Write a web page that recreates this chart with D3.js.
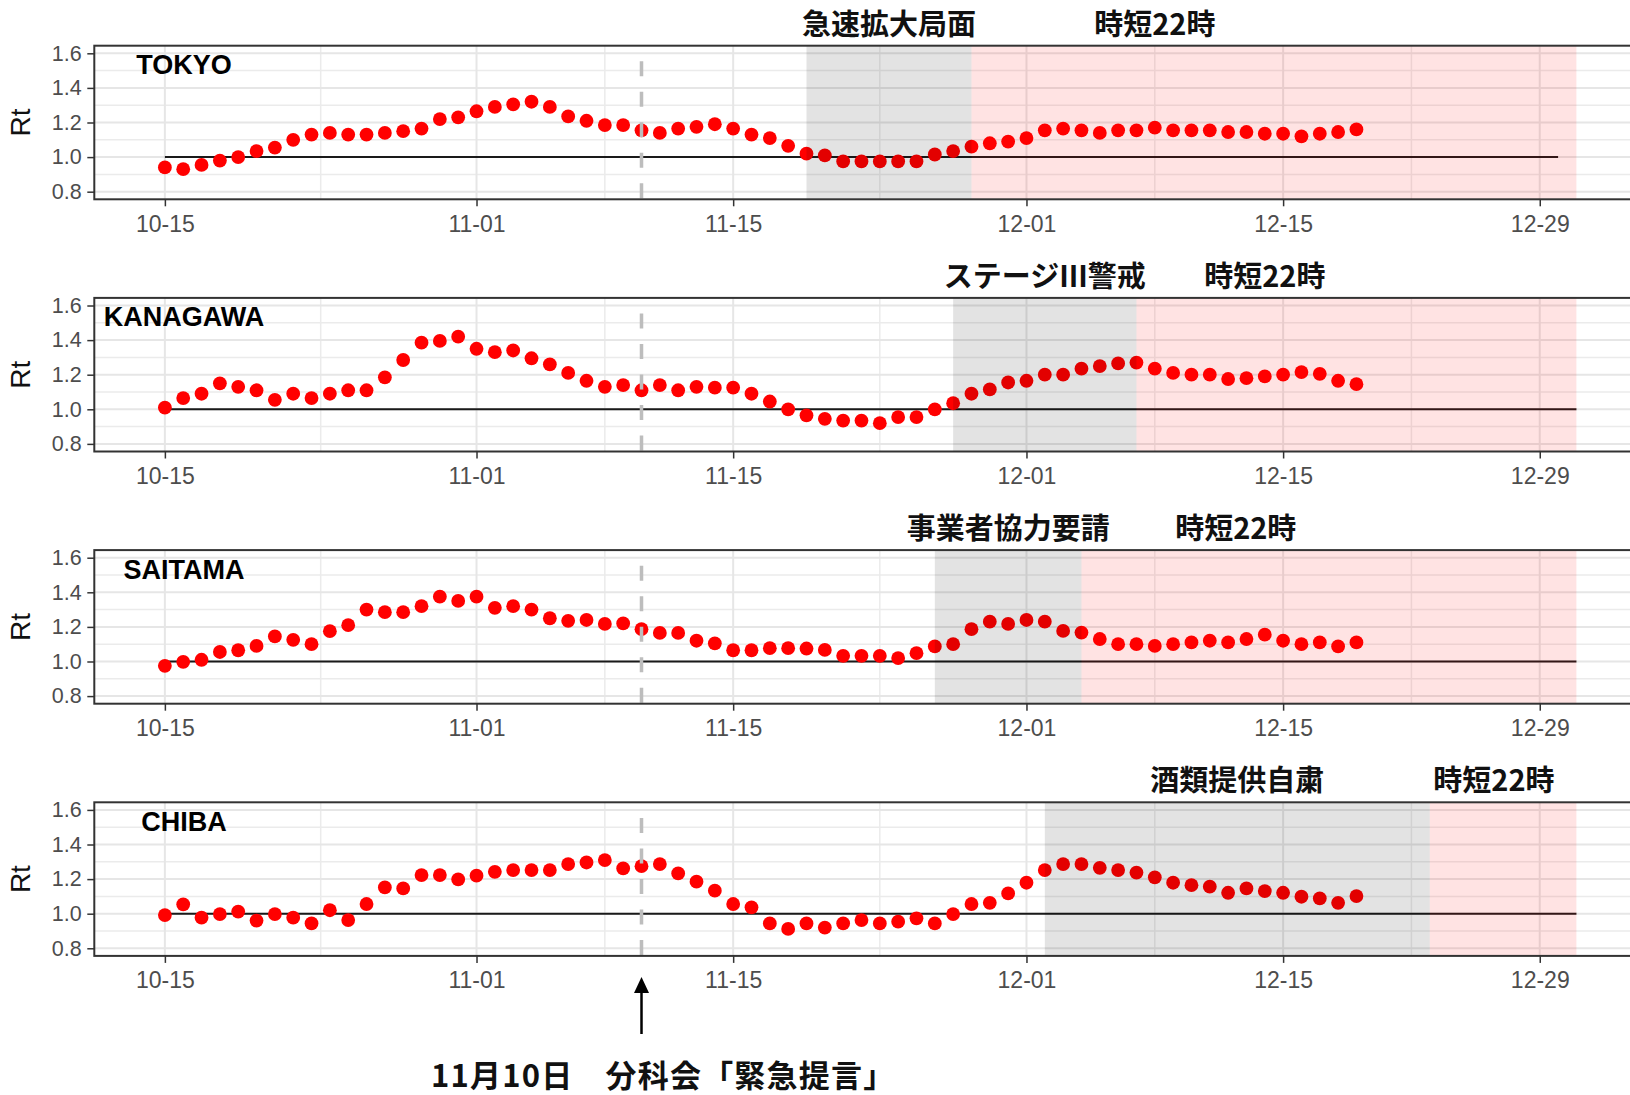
<!DOCTYPE html>
<html>
<head>
<meta charset="utf-8">
<script src="https://cdn.jsdelivr.net/npm/d3@7"></script>
<style>
    body { margin: 0; background: #fff; }
    svg { display: block; }
</style>
</head>
<body>
<div class="canvas"></div>
<script>
// ---------------------------------------------------------------- data
// daily Rt from 10-15 to 12-19
const firstDay = '2020-10-15';
const lastDay = '2020-12-19';

const prefectures = ['TOKYO', 'KANAGAWA', 'SAITAMA', 'CHIBA'];

const tokyoRt = [
    0.94, 0.93, 0.955, 0.98, 1.0, 1.035, 1.055, 1.10, 1.13, 1.14, 1.13, 1.13, 1.14, 1.15, 1.165, 1.22, 1.23,
    1.265, 1.29, 1.305, 1.32, 1.29, 1.235, 1.21, 1.185, 1.185, 1.155, 1.14, 1.165, 1.175, 1.19, 1.165, 1.13, 1.11, 1.065, 1.02,
    1.01, 0.975, 0.975, 0.975, 0.975, 0.975, 1.015, 1.035, 1.06, 1.08, 1.09,
    1.11, 1.155, 1.165, 1.155, 1.14, 1.155, 1.155, 1.17, 1.155, 1.155, 1.155, 1.145, 1.145, 1.135, 1.135, 1.12, 1.135, 1.145, 1.16
];
const kanagawaRt = [
    1.01, 1.065, 1.09, 1.15, 1.13, 1.11, 1.055, 1.09, 1.065, 1.09, 1.11, 1.11, 1.185, 1.285, 1.385, 1.395, 1.42,
    1.35, 1.33, 1.34, 1.295, 1.26, 1.21, 1.165, 1.13, 1.14, 1.11, 1.14, 1.11, 1.13, 1.125, 1.125, 1.09, 1.045, 1.0, 0.965,
    0.945, 0.935, 0.935, 0.92, 0.955, 0.955, 1.0, 1.035, 1.09, 1.115, 1.155,
    1.165, 1.2, 1.2, 1.235, 1.25, 1.265, 1.27, 1.235, 1.21, 1.2, 1.2, 1.175, 1.18, 1.19, 1.2, 1.215, 1.205, 1.165, 1.145
];
const saitamaRt = [
    0.975, 0.998, 1.01, 1.055, 1.065, 1.09, 1.145, 1.125, 1.10, 1.175, 1.21, 1.30, 1.285, 1.285, 1.32, 1.375, 1.35,
    1.375, 1.31, 1.32, 1.30, 1.25, 1.235, 1.24, 1.217, 1.22, 1.187, 1.165, 1.165, 1.12, 1.105, 1.065, 1.065, 1.077, 1.077, 1.075,
    1.067, 1.033, 1.033, 1.033, 1.02, 1.048, 1.087, 1.10, 1.187, 1.23, 1.217,
    1.24, 1.23, 1.177, 1.167, 1.13, 1.10, 1.10, 1.09, 1.10, 1.11, 1.12, 1.11, 1.13, 1.155, 1.12, 1.10, 1.11, 1.087, 1.11
];
const chibaRt = [
    0.992, 1.054, 0.977, 0.998, 1.012, 0.96, 0.998, 0.977, 0.944, 1.02, 0.963, 1.056, 1.152, 1.146, 1.223, 1.223, 1.198,
    1.22, 1.242, 1.252, 1.252, 1.252, 1.287, 1.296, 1.31, 1.262, 1.275, 1.287, 1.233, 1.185, 1.133, 1.056, 1.037, 0.944, 0.912, 0.944,
    0.92, 0.944, 0.963, 0.944, 0.954, 0.973, 0.944, 0.998, 1.056, 1.063, 1.117,
    1.179, 1.252, 1.287, 1.287, 1.265, 1.252, 1.238, 1.21, 1.179, 1.165, 1.156, 1.121, 1.146, 1.131, 1.121, 1.098, 1.088, 1.063, 1.102
];

// shaded periods (gray = first measure, pink = 時短22時)
const grayStart = ['2020-11-19', '2020-11-27', '2020-11-26', '2020-12-02'];
const pinkStart = ['2020-11-28', '2020-12-07', '2020-12-04', '2020-12-23'];
const shadeEnd = '2020-12-31';
const grayLabels = ['急速拡大局面', 'ステージIII警戒', '事業者協力要請', '酒類提供自粛'];
const pinkLabel = '時短22時';
const pinkLabelDates = ['2020-12-08', '2020-12-14', '2020-12-12T10:00', '2020-12-26T12:00'];

// Rt = 1 reference line
const refValue = 1.0;
const refLineEnd = ['2020-12-30', '2020-12-31', '2020-12-31', '2020-12-31'];

// axes
const xTickDates = ['2020-10-15', '2020-11-01', '2020-11-15', '2020-12-01', '2020-12-15', '2020-12-29'];
const yTicks = [0.8, 1.0, 1.2, 1.4, 1.6];
const yMinor = [0.9, 1.1, 1.3, 1.5];

// 11/10 proposal
const proposalDate = '2020-11-10';
const proposalText = '11月10日　分科会「緊急提言」';

const seriesList = [tokyoRt, kanagawaRt, saitamaRt, chibaRt];

// ---------------------------------------------------------------- canvas
const width = 1630;
const height = 1095;

const panel = {
    left: 94.3,
    right: 1647, // runs past the right edge of the picture, like the original crop
    top: 45.7,
    height: 153.6,
    step: 252.2
};

const parseDay = s => new Date(s.length > 10 ? s : s + 'T00:00');
const days = d3.timeDay.range(parseDay(firstDay), d3.timeDay.offset(parseDay(lastDay), 1));

const svg = d3.select('.canvas')
    .append('svg')
    .attr('width', width)
    .attr('height', height);

svg.append('rect')
    .attr('width', width)
    .attr('height', height)
    .attr('fill', '#fff');

// 5% padding on each side of 10-15 .. 12-31
const pad = 3.85 * 864e5;
const x = d3.scaleTime()
    .domain([new Date(+parseDay(firstDay) - pad), new Date(+parseDay(shadeEnd) + pad)])
    .range([panel.left, panel.right]);

const y = d3.scaleLinear()
    .domain([0.756, 1.644])
    .range([panel.height, 0]);

const xMajor = xTickDates.map(parseDay);
const xMinor = d3.pairs(xMajor).map(([a, b]) => new Date((+a + +b) / 2));

const sans = '"Liberation Sans", Arial, sans-serif';
const cjk = '"Noto Sans CJK JP", "Noto Sans", sans-serif';

// ---------------------------------------------------------------- panels
prefectures.forEach((name, i) => {
    const top = panel.top + i * panel.step;
    const values = seriesList[i];
    const data = days.map((d, k) => ({ date: d, rt: values[k] }));

    const g = svg.append('g')
        .attr('transform', `translate(0, ${top})`);

    // grid
    const grid = g.append('g');
    grid.selectAll('.ymin')
        .data(yMinor)
        .enter().append('line')
            .attr('x1', panel.left).attr('x2', panel.right)
            .attr('y1', d => y(d)).attr('y2', d => y(d))
            .attr('stroke', '#EBEBEB').attr('stroke-width', 1.5);
    grid.selectAll('.xmin')
        .data(xMinor)
        .enter().append('line')
            .attr('x1', d => x(d)).attr('x2', d => x(d))
            .attr('y1', 0).attr('y2', panel.height)
            .attr('stroke', '#EBEBEB').attr('stroke-width', 1.5);
    grid.selectAll('.ymaj')
        .data(yTicks)
        .enter().append('line')
            .attr('x1', panel.left).attr('x2', panel.right)
            .attr('y1', d => y(d)).attr('y2', d => y(d))
            .attr('stroke', '#E6E6E6').attr('stroke-width', 2);
    grid.selectAll('.xmaj')
        .data(xMajor)
        .enter().append('line')
            .attr('x1', d => x(d)).attr('x2', d => x(d))
            .attr('y1', 0).attr('y2', panel.height)
            .attr('stroke', '#E6E6E6').attr('stroke-width', 2);

    // Rt = 1 line
    g.append('line')
        .attr('x1', x(parseDay(firstDay)))
        .attr('x2', x(parseDay(refLineEnd[i])))
        .attr('y1', y(refValue)).attr('y2', y(refValue))
        .attr('stroke', '#1a1a1a')
        .attr('stroke-width', 2);

    // points
    g.selectAll('circle')
        .data(data)
        .enter().append('circle')
            .attr('cx', d => x(d.date))
            .attr('cy', d => y(d.rt))
            .attr('r', 6.9)
            .attr('fill', '#ff0000');

    // 11/10 dashed line, dashes start from the bottom
    const px = x(parseDay(proposalDate));
    g.append('line')
        .attr('x1', px).attr('x2', px)
        .attr('y1', panel.height - 1).attr('y2', 0)
        .attr('stroke', '#BDBDBD')
        .attr('stroke-width', 3.5)
        .attr('stroke-dasharray', '15,15.5');

    // shaded periods drawn over the points
    const g0 = x(parseDay(grayStart[i]));
    const p0 = x(parseDay(pinkStart[i]));
    const p1 = x(parseDay(shadeEnd));
    g.append('rect')
        .attr('x', g0).attr('y', 0)
        .attr('width', p0 - g0).attr('height', panel.height)
        .attr('fill', '#000').attr('fill-opacity', 0.11);
    g.append('rect')
        .attr('x', p0).attr('y', 0)
        .attr('width', p1 - p0).attr('height', panel.height)
        .attr('fill', '#ff0000').attr('fill-opacity', 0.11);

    // panel border
    g.append('rect')
        .attr('x', panel.left).attr('y', 0)
        .attr('width', panel.right - panel.left).attr('height', panel.height)
        .attr('fill', 'none')
        .attr('stroke', '#333')
        .attr('stroke-width', 2);

    // axes
    const yAxis = d3.axisLeft(y)
        .tickValues(yTicks)
        .tickFormat(d3.format('.1f'))
        .tickSize(7)
        .tickPadding(5.6);
    const xAxis = d3.axisBottom(x)
        .tickValues(xMajor)
        .tickFormat(d3.timeFormat('%m-%d'))
        .tickSize(7)
        .tickPadding(9);

    const yAxisGroup = g.append('g')
        .attr('transform', `translate(${panel.left}, 0)`)
        .call(yAxis);
    const xAxisGroup = g.append('g')
        .attr('transform', `translate(0, ${panel.height})`)
        .call(xAxis);

    [yAxisGroup, xAxisGroup].forEach(ax => {
        ax.select('.domain').remove();
        ax.selectAll('line').attr('stroke', '#333').attr('stroke-width', 1.5);
        ax.selectAll('text')
            .attr('fill', '#4D4D4D')
            .style('font-family', sans);
    });
    yAxisGroup.selectAll('text').style('font-size', '21.5px');
    xAxisGroup.selectAll('text').style('font-size', '23px');

    // axis title
    g.append('text')
        .attr('transform', `translate(30, ${panel.height / 2}) rotate(-90)`)
        .attr('text-anchor', 'middle')
        .style('font-family', sans)
        .style('font-size', '28px')
        .attr('fill', '#111')
        .text('Rt');

    // prefecture name
    g.append('text')
        .attr('x', 184)
        .attr('y', 28.5)
        .attr('text-anchor', 'middle')
        .style('font-family', sans)
        .style('font-size', '27px')
        .style('font-weight', 'bold')
        .attr('fill', '#000')
        .text(name);

    // period labels above the panel
    g.append('text')
        .attr('x', (g0 + p0) / 2)
        .attr('y', -11.2)
        .attr('text-anchor', 'middle')
        .style('font-family', cjk)
        .style('font-size', '29px')
        .style('font-weight', 'bold')
        .attr('fill', '#111')
        .text(grayLabels[i]);
    g.append('text')
        .attr('x', x(parseDay(pinkLabelDates[i])))
        .attr('y', -11.2)
        .attr('text-anchor', 'middle')
        .style('font-family', cjk)
        .style('font-size', '29px')
        .style('font-weight', 'bold')
        .attr('fill', '#111')
        .text(pinkLabel);
});

// ---------------------------------------------------------------- bottom note
const ax = x(parseDay(proposalDate));
svg.append('line')
    .attr('x1', ax).attr('x2', ax)
    .attr('y1', 1034).attr('y2', 990)
    .attr('stroke', '#000')
    .attr('stroke-width', 2.5);
svg.append('path')
    .attr('d', `M${ax},977 L${ax - 7.5},993 L${ax + 7.5},993 Z`)
    .attr('fill', '#000');

svg.append('text')
    .attr('x', 431)
    .attr('y', 1087)
    .style('font-family', cjk)
    .style('font-size', '31px')
    .style('font-weight', 'bold')
    .style('letter-spacing', '1.2px')
    .attr('fill', '#111')
    .text(proposalText);
</script>
</body>
</html>
